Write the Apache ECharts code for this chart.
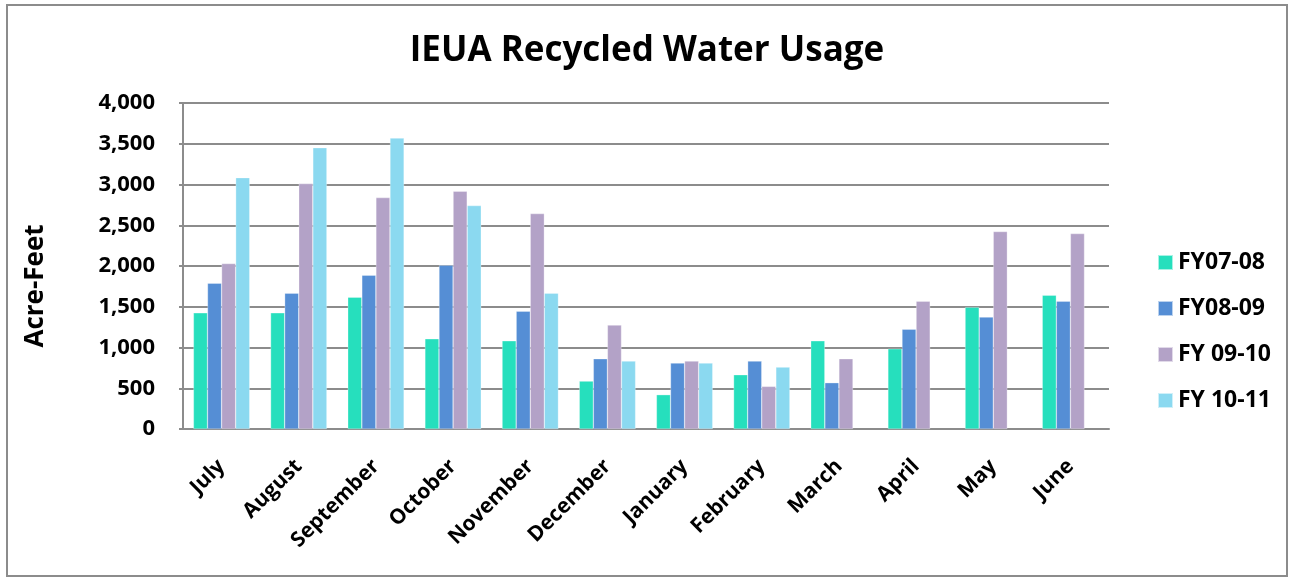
<!DOCTYPE html>
<html>
<head>
<meta charset="utf-8">
<script src="https://cdn.jsdelivr.net/npm/echarts@6/dist/echarts.min.js"></script>
<style>
  html, body { margin: 0; padding: 0; background: #fff; }
  #chart { width: 1294px; height: 581px; }
</style>
</head>
<body>
<div id="chart"></div>
<script>
const months = ['July', 'August', 'September', 'October', 'November', 'December',
  'January', 'February', 'March', 'April', 'May', 'June'];
const fy0708 = [1425, 1425, 1618, 1107, 1082, 588, 421, 666, 1082, 984, 1495, 1642];
const fy0809 = [1789, 1667, 1887, 2010, 1446, 862, 809, 833, 568, 1225, 1373, 1569];
const fy0910 = [2030, 3011, 2839, 2917, 2643, 1275, 833, 523, 862, 1569, 2423, 2398];
const fy1011 = [3084, 3452, 3570, 2741, 1667, 833, 809, 760, null, null, null, null];
const seriesNames = ['FY07-08', 'FY08-09', 'FY 09-10', 'FY 10-11'];

const chart = echarts.init(document.getElementById('chart'));
const font = '"Open Sans", Lato, sans-serif';

function bar(name, data) {
  return {
    name: name,
    type: 'bar',
    data: data,
    barGap: '0%',
    barCategoryGap: '27%',
    itemStyle: { borderColor: 'rgba(255,255,255,0.6)', borderWidth: 0.5 },
  };
}

const option = {
  color: ['#26DFBD', '#558ED5', '#B3A2C7', '#8BD9F0'],
  animation: false,
  textStyle: { fontFamily: font },
  title: {
    text: 'IEUA Recycled Water Usage',
    left: 'center',
    top: 29,
    textStyle: { fontFamily: font, fontSize: 35, fontWeight: 'bold', color: '#000' },
  },
  graphic: [
    {
      type: 'rect',
      shape: { x: 7, y: 5, width: 1280, height: 571 },
      style: { fill: 'none', stroke: '#8c8c8c', lineWidth: 2 },
      silent: true,
    },
  ],
  legend: {
    orient: 'vertical',
    left: 1152,
    top: 246,
    itemWidth: 15,
    itemHeight: 15,
    itemGap: 23,
    icon: 'rect',
    textStyle: { fontFamily: font, fontSize: 23, fontWeight: 'bold', color: '#000' },
    data: seriesNames,
  },
  grid: { left: 183, right: 185, top: 103, bottom: 152 },
  xAxis: {
    type: 'category',
    data: months,
    axisTick: { show: false },
    axisLine: { lineStyle: { color: '#8c8c8c', width: 2 } },
    axisLabel: {
      rotate: 45,
      margin: 34,
      interval: 0,
      fontFamily: font,
      fontSize: 21,
      fontWeight: 'bold',
      color: '#000',
    },
  },
  yAxis: {
    type: 'value',
    min: 0,
    max: 4000,
    interval: 500,
    name: 'Acre-Feet',
    nameLocation: 'middle',
    nameGap: 134,
    nameTextStyle: {
      fontFamily: font,
      fontSize: 26,
      fontWeight: 'bold',
      color: '#000',
      padding: [0, 40, 0, 0],
    },
    axisLine: { show: true, lineStyle: { color: '#8c8c8c', width: 2 } },
    axisTick: { show: true, length: 4, lineStyle: { color: '#8c8c8c', width: 2 } },
    splitLine: { lineStyle: { color: '#8c8c8c', width: 2 } },
    axisLabel: {
      margin: 28,
      fontFamily: font,
      fontSize: 22,
      fontWeight: 'bold',
      color: '#000',
      formatter: v => v.toLocaleString('en-US'),
    },
  },
  series: [
    bar(seriesNames[0], fy0708),
    bar(seriesNames[1], fy0809),
    bar(seriesNames[2], fy0910),
    bar(seriesNames[3], fy1011),
  ],
};

chart.setOption(option);
</script>
</body>
</html>
